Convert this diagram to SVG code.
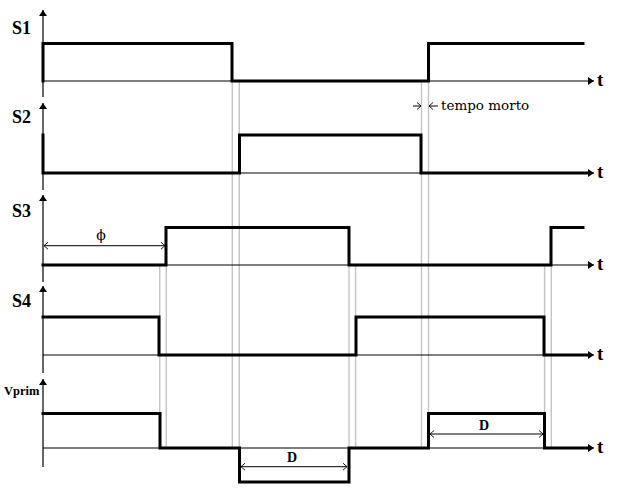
<svg xmlns="http://www.w3.org/2000/svg" width="622" height="497" viewBox="0 0 622 497">
<style>
.axis{stroke:#000;stroke-width:1.2;fill:none}
.sig{stroke:#000;stroke-width:3;fill:none;stroke-linejoin:miter;stroke-linecap:square}
.grid{stroke:#c4c4c4;stroke-width:1.4;fill:none}
.dim{stroke:#000;stroke-width:1;fill:none}
.lbl{font-family:"Liberation Serif","Times New Roman",serif;font-weight:bold;font-size:18px;fill:#000}
.t{font-family:"Liberation Serif","Times New Roman",serif;font-weight:bold;font-size:19px;fill:#000}
.dl{font-family:"Liberation Serif","Times New Roman",serif;font-weight:bold;font-size:14px;fill:#000}
.note{font-family:"DejaVu Serif","Liberation Serif",serif;font-size:13.5px;fill:#000}
</style>
<defs>
<marker id="ah" markerWidth="6" markerHeight="8" refX="6" refY="4" orient="auto" markerUnits="userSpaceOnUse">
<path d="M0,0 L6,4 L0,8 Z" fill="#000"/>
</marker>
<marker id="oa" markerWidth="5" markerHeight="8" refX="4.5" refY="4" orient="auto-start-reverse" markerUnits="userSpaceOnUse">
<path d="M0.5,0.5 L4.5,4 L0.5,7.5" fill="none" stroke="#000" stroke-width="0.9"/>
</marker>
</defs>
<rect width="622" height="497" fill="#fff"/>
<g id="gridlines">
<line class="grid" x1="232.3" y1="82" x2="232.3" y2="448"/>
<line class="grid" x1="239.3" y1="82" x2="239.3" y2="448"/>
<line class="grid" x1="421.5" y1="82" x2="421.5" y2="448"/>
<line class="grid" x1="428.5" y1="82" x2="428.5" y2="448"/>
<line class="grid" x1="159.7" y1="266" x2="159.7" y2="448"/>
<line class="grid" x1="166.3" y1="266" x2="166.3" y2="448"/>
<line class="grid" x1="349" y1="266" x2="349" y2="448"/>
<line class="grid" x1="355.6" y1="266" x2="355.6" y2="448"/>
<line class="grid" x1="544.6" y1="266" x2="544.6" y2="448"/>
<line class="grid" x1="551.3" y1="266" x2="551.3" y2="448"/>
</g>
<g id="axes">
<line class="axis" x1="43" y1="97" x2="43" y2="10" marker-end="url(#ah)"/>
<line class="axis" x1="43" y1="190" x2="43" y2="103" marker-end="url(#ah)"/>
<line class="axis" x1="43" y1="282" x2="43" y2="195" marker-end="url(#ah)"/>
<line class="axis" x1="43" y1="373" x2="43" y2="286" marker-end="url(#ah)"/>
<line class="axis" x1="43" y1="467" x2="43" y2="379" marker-end="url(#ah)"/>
<line class="axis" x1="43" y1="81" x2="594" y2="81" marker-end="url(#ah)"/>
<line class="axis" x1="43" y1="173" x2="594" y2="173" marker-end="url(#ah)"/>
<line class="axis" x1="43" y1="265" x2="594" y2="265" marker-end="url(#ah)"/>
<line class="axis" x1="43" y1="355" x2="594" y2="355" marker-end="url(#ah)"/>
<line class="axis" x1="43" y1="448" x2="594" y2="448" marker-end="url(#ah)"/>
</g>
<g id="S1">
<text class="lbl" x="12" y="34">S1</text>
<path class="sig" d="M43,81 V43.5 H232 V81 H428.5 V43.5 H583"/>
<text class="t" x="597" y="86">t</text>
</g>
<g id="S2">
<text class="lbl" x="12" y="123">S2</text>
<path class="sig" d="M43,135 V173 H239.5 V135 H421 V173 H587"/>
<text class="t" x="597" y="178">t</text>
</g>
<g id="S3">
<text class="lbl" x="12" y="217">S3</text>
<path class="sig" d="M43,265 H166 V227.5 H349 V265 H551 V227.5 H583"/>
<text class="t" x="597" y="270">t</text>
</g>
<g id="S4">
<text class="lbl" x="12" y="307">S4</text>
<path class="sig" d="M43,317 H159 V355 H356 V317 H544 V355 H587"/>
<text class="t" x="597" y="360">t</text>
</g>
<g id="Vprim">
<text class="lbl" x="4" y="395" style="font-size:12.5px">Vprim</text>
<path class="sig" d="M43,413.5 H160 V448 H239.5 V482 H349 V448 H428.5 V413.5 H544.5 V448 H587"/>
<text class="t" x="597" y="453">t</text>
</g>
<g id="annotations">
<line class="dim" x1="44" y1="245.7" x2="165" y2="245.7" marker-start="url(#oa)" marker-end="url(#oa)"/>
<text x="101" y="240" text-anchor="middle" style="font-family:'DejaVu Serif','Liberation Serif',serif;font-size:14px;fill:#000">ϕ</text>
<line class="dim" x1="241" y1="466.7" x2="347" y2="466.7" marker-start="url(#oa)" marker-end="url(#oa)"/>
<text class="dl" x="292" y="462" text-anchor="middle">D</text>
<line class="dim" x1="430" y1="434" x2="543" y2="434" marker-start="url(#oa)" marker-end="url(#oa)"/>
<text class="dl" x="484" y="430" text-anchor="middle">D</text>
<line class="dim" x1="413" y1="106" x2="421" y2="106" marker-end="url(#oa)"/>
<line class="dim" x1="438" y1="106" x2="429" y2="106" marker-end="url(#oa)"/>
<text class="note" x="441" y="109.5">tempo morto</text>
</g>
</svg>
